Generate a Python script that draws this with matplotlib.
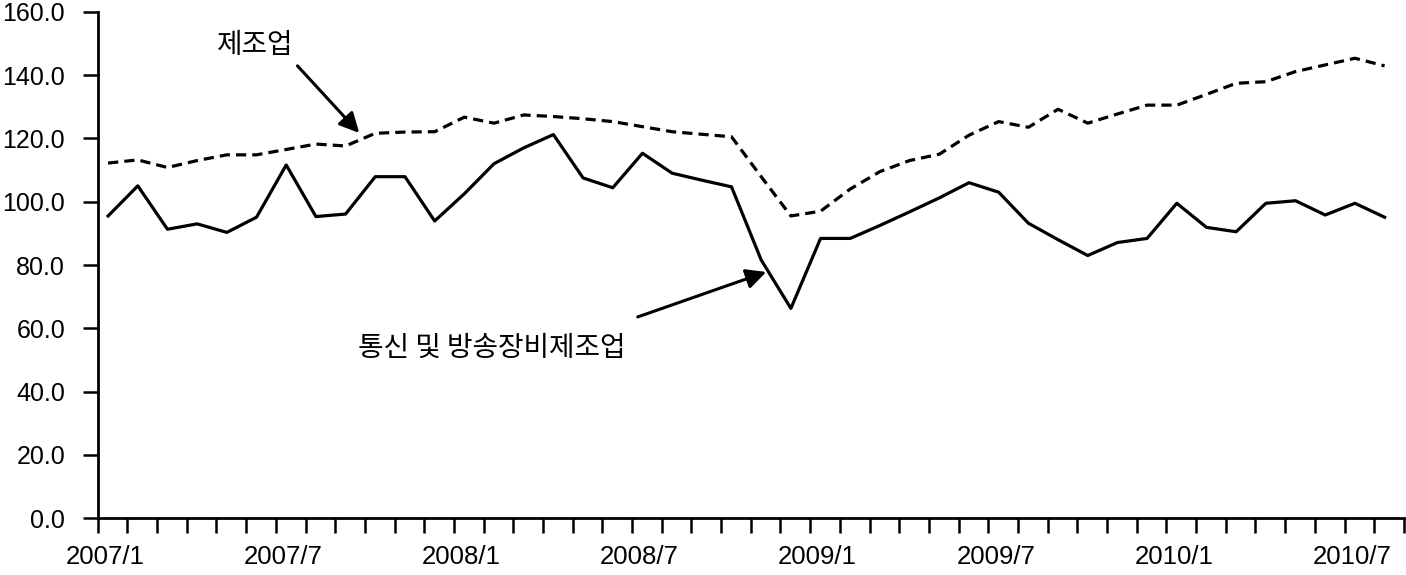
import matplotlib
matplotlib.use("Agg")
import matplotlib.pyplot as plt
import pandas as pd

# monthly index, 2007/1 .. 2010/8
months = pd.period_range("2007-01", periods=44, freq="M")

manufacturing = [112.2, 113.2, 110.8, 113.0, 114.8, 114.8, 116.5, 118.2, 117.6, 121.6,
                 122.0, 122.1, 126.7, 124.8, 127.4, 126.9, 126.2, 125.3, 123.7, 122.1,
                 121.3, 120.5, 107.9, 95.5, 97.0, 104.0, 109.5, 113.0, 115.0, 121.0,
                 125.3, 123.5, 129.2, 124.8, 127.7, 130.5, 130.5, 133.9, 137.4, 137.9,
                 141.1, 143.2, 145.3, 142.9]
telecom = [95.5, 105.0, 91.3, 93.0, 90.3, 95.1, 111.6, 95.3, 96.1, 107.9,
           107.9, 93.9, 102.5, 112.0, 117.0, 121.2, 107.5, 104.4, 115.3, 109.0,
           106.8, 104.7, 81.6, 66.3, 88.4, 88.4, 92.5, 96.8, 101.2, 106.0,
           103.0, 93.2, 88.0, 83.0, 87.1, 88.4, 99.5, 91.9, 90.5, 99.5,
           100.3, 95.8, 99.5, 95.1]

tick_idx = [0, 6, 12, 18, 24, 30, 36, 42]
tick_labels = ["2007/1", "2007/7", "2008/1", "2008/7", "2009/1", "2009/7", "2010/1", "2010/7"]
y_ticks = [0, 20, 40, 60, 80, 100, 120, 140, 160]

NUM_FONT = ["Liberation Sans", "DejaVu Sans"]
KR_FONT = ["Noto Sans CJK KR", "DejaVu Sans"]

fig = plt.figure(figsize=(14.06, 5.75), dpi=100)
ax = fig.add_axes([0.0695, 0.0986, 0.929, 0.881])

x = list(range(len(months)))
ax.plot(x, manufacturing, color="black", linewidth=2.3, dashes=(3.2, 1.9))
ax.plot(x, telecom, color="black", linewidth=2.3)

ax.set_xlim(-0.35, 43.65)
ax.set_ylim(0, 160)

for side in ("top", "right"):
    ax.spines[side].set_visible(False)
for side in ("left", "bottom"):
    ax.spines[side].set_linewidth(2.0)

# tick marks on category boundaries, labels near the category
ax.set_xticks([-0.35 + k for k in range(45)])
ax.set_xticklabels([])
ax.set_xticks([i - 0.1 for i in tick_idx], minor=True)
ax.set_xticklabels(tick_labels, minor=True, fontfamily=NUM_FONT, fontsize=18.5)
ax.tick_params(axis="x", which="major", direction="out", length=10.5, width=1.8)
ax.tick_params(axis="x", which="minor", length=0, pad=19)

ax.set_yticks(y_ticks)
ax.set_yticklabels([f"{v:.1f}" for v in y_ticks], fontfamily=NUM_FONT, fontsize=18)
ax.tick_params(axis="y", direction="out", length=10.5, width=1.8, pad=13)

arrow = dict(arrowstyle="-|>", color="black", lw=2.2, mutation_scale=30,
             shrinkA=0, shrinkB=0)
ax.text(4.94, 149.5, "제조업", fontfamily=KR_FONT, fontsize=20,
        ha="center", va="center")
ax.annotate("", xy=(8.46, 121.7), xytext=(6.38, 142.9), arrowprops=arrow)
ax.text(12.93, 53.8, "통신 및 방송장비제조업", fontfamily=KR_FONT, fontsize=20,
        ha="center", va="center")
ax.annotate("", xy=(22.17, 77.8), xytext=(17.84, 63.6), arrowprops=arrow)

fig.savefig("out.png", dpi=100)
